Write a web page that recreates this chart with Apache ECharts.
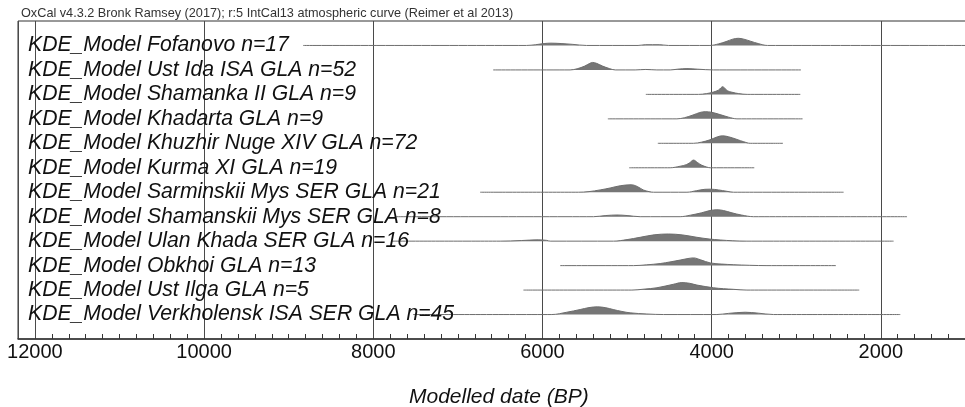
<!DOCTYPE html>
<html>
<head>
<meta charset="utf-8">
<script src="https://cdn.jsdelivr.net/npm/echarts@6/dist/echarts.min.js"></script>
<style>
html,body{margin:0;padding:0;background:#fff;}
#chart{width:965px;height:407px;}
</style>
</head>
<body>
<div id="chart"></div>
<script>
// ---- data ----
const headerText = 'OxCal v4.3.2 Bronk Ramsey (2017); r:5 IntCal13 atmospheric curve (Reimer et al 2013)';
const axisTitle = 'Modelled date (BP)';
const tickLabels = [12000, 10000, 8000, 6000, 4000, 2000];

const labels = [
  'KDE_Model Fofanovo n=17',
  'KDE_Model Ust Ida ISA GLA n=52',
  'KDE_Model Shamanka II GLA n=9',
  'KDE_Model Khadarta GLA n=9',
  'KDE_Model Khuzhir Nuge XIV GLA n=72',
  'KDE_Model Kurma XI GLA n=19',
  'KDE_Model Sarminskii Mys SER GLA n=21',
  'KDE_Model Shamanskii Mys SER GLA n=8',
  'KDE_Model Ulan Khada SER GLA n=16',
  'KDE_Model Obkhoi GLA n=13',
  'KDE_Model Ust Ilga GLA n=5',
  'KDE_Model Verkholensk ISA SER GLA n=45'
];

// [year BP, relative density]
const fofanovo = [[8830,0],[6190,0],[6080,0.1],[5980,0.25],[5900,0.3],[5780,0.25],[5640,0.14],[5480,0],[4870,0],[4780,0.1],[4620,0.1],[4510,0],[4020,0],[3920,0.2],[3830,0.5],[3750,0.82],[3686,0.93],[3620,0.82],[3540,0.55],[3450,0.25],[3340,0],[500,0]];
const ustIda = [[6583,0],[5673,0],[5590,0.15],[5500,0.5],[5440,0.85],[5408,0.97],[5360,0.85],[5290,0.5],[5210,0.18],[5140,0],[4904,0],[4780,0.06],[4648,0],[4490,0],[4400,0.1],[4292,0.17],[4170,0.1],[3977,0],[2944,0]];
const shamankaII = [[4778,0],[4155,0],[4060,0.1],[3980,0.3],[3920,0.55],[3890,0.85],[3871,1.0],[3845,0.8],[3810,0.45],[3760,0.28],[3680,0.1],[3580,0],[2952,0]];
const khadarta = [[5227,0],[4411,0],[4320,0.15],[4220,0.5],[4140,0.82],[4076,0.93],[4000,0.85],[3900,0.55],[3800,0.22],[3701,0],[2925,0]];
const khuzhir = [[4636,0],[4214,0],[4120,0.15],[4020,0.45],[3930,0.85],[3871,0.97],[3800,0.85],[3700,0.5],[3620,0.2],[3544,0],[3157,0]];
const kurma = [[4975,0],[4490,0],[4372,0.2],[4300,0.4],[4260,0.65],[4214,1.0],[4170,0.7],[4120,0.35],[4060,0.1],[4017,0],[3496,0]];
const sarminskii = [[6737,0],[5574,0],[5450,0.08],[5318,0.3],[5200,0.55],[5081,0.84],[4951,0.97],[4880,0.75],[4809,0.3],[4740,0.08],[4687,0],[4292,0],[4180,0.2],[4080,0.38],[4017,0.4],[3920,0.3],[3820,0.12],[3741,0],[2440,0]];
const shamanskii = [[7742,0],[5397,0],[5250,0.15],[5120,0.22],[5000,0.15],[4845,0],[4372,0],[4250,0.2],[4120,0.5],[4020,0.8],[3938,0.9],[3860,0.8],[3760,0.5],[3650,0.22],[3505,0],[1690,0]];
const ulanKhada = [[7790,0],[6500,0],[6250,0.08],[6050,0.17],[5950,0.1],[5909,0],[5160,0],[5000,0.2],[4845,0.5],[4680,0.82],[4510,0.93],[4340,0.8],[4174,0.5],[4030,0.28],[3899,0.15],[3750,0.05],[3583,0],[1849,0]];
const obkhoi = [[5791,0],[4924,0],[4770,0.1],[4608,0.27],[4480,0.5],[4372,0.72],[4280,0.92],[4214,1.0],[4130,0.75],[4017,0.35],[3880,0.2],[3745,0.12],[3550,0.04],[3346,0],[2530,0]];
const ustIlga = [[6225,0],[4943,0],[4800,0.12],[4647,0.3],[4454,0.75],[4352,0.97],[4260,0.88],[4174,0.65],[3980,0.3],[3860,0.18],[3745,0.1],[3583,0],[2255,0]];
const verkholensk = [[7530,0],[5889,0],[5712,0.3],[5554,0.65],[5450,0.9],[5350,1.0],[5250,0.88],[5164,0.65],[5060,0.4],[4963,0.22],[4766,0.07],[4569,0],[3938,0],[3800,0.15],[3603,0.3],[3450,0.18],[3268,0],[1770,0]];

const rows = [fofanovo, ustIda, shamankaII, khadarta, khuzhir, kurma, sarminskii, shamanskii, ulanKhada, obkhoi, ustIlga, verkholensk];

// ---- chart ----
const DENS_SCALE = 0.315; // density 1 -> fraction of row spacing
const FONT = '"Liberation Sans", Arial, sans-serif';

const series = rows.map((pts, i) => ({
  type: 'line',
  name: labels[i],
  xAxisIndex: 0,
  yAxisIndex: 0,
  data: pts.map(p => [p[0], i - p[1] * DENS_SCALE]),
  smooth: 0.35,
  symbol: 'none',
  silent: true,
  lineStyle: { color: '#6e6e6e', width: 1 },
  areaStyle: { color: '#767676', opacity: 1, origin: i },
  z: 3
}));

const chart = echarts.init(document.getElementById('chart'), null, { renderer: 'canvas' });
chart.setOption({
  animation: false,
  backgroundColor: '#fff',
  title: [
    { text: headerText, left: 16, top: 2,
      textStyle: { fontFamily: FONT, fontSize: 12.7, fontWeight: 'normal', color: '#333' } },
    { text: axisTitle, left: 404, top: 382,
      textStyle: { fontFamily: FONT, fontSize: 21, fontStyle: 'italic', fontWeight: 'normal', color: '#111' } }
  ],
  grid: { left: 18, right: -85, top: 21, bottom: 68, show: true, borderColor: '#333', borderWidth: 1,
          containLabel: false, outerBoundsMode: 'none' },
  xAxis: [
    {
      type: 'value', min: 0, max: 12200, interval: 2000, inverse: true, position: 'bottom',
      axisLine: { show: true, onZero: false, lineStyle: { color: '#333', width: 1.5 } },
      axisTick: { show: false },
      axisLabel: {
        margin: 3, fontFamily: FONT, fontSize: 20, color: '#111',
        formatter: v => (tickLabels.indexOf(v) >= 0 ? String(v) : '')
      },
      splitLine: { show: true, lineStyle: { color: '#4a4a4a', width: 1 } },
      z: 2
    },
    {
      type: 'value', min: 0, max: 12200, interval: 200, inverse: true, position: 'bottom', gridIndex: 0,
      axisLine: { show: false, onZero: false },
      axisTick: { show: true, inside: true, length: 5, lineStyle: { color: '#333', width: 1 } },
      axisLabel: { show: false },
      splitLine: { show: false }
    }
  ],
  yAxis: {
    type: 'value', min: -1, max: 12, interval: 1, inverse: true,
    axisLine: { show: false }, axisTick: { show: false }, splitLine: { show: false },
    axisLabel: {
      inside: true, margin: 10, fontFamily: FONT, fontSize: 21.2, fontStyle: 'italic', color: '#111',
      formatter: v => (labels[v] !== undefined ? labels[v] : '')
    },
    z: 5
  },
  series: series
});
</script>
</body>
</html>
